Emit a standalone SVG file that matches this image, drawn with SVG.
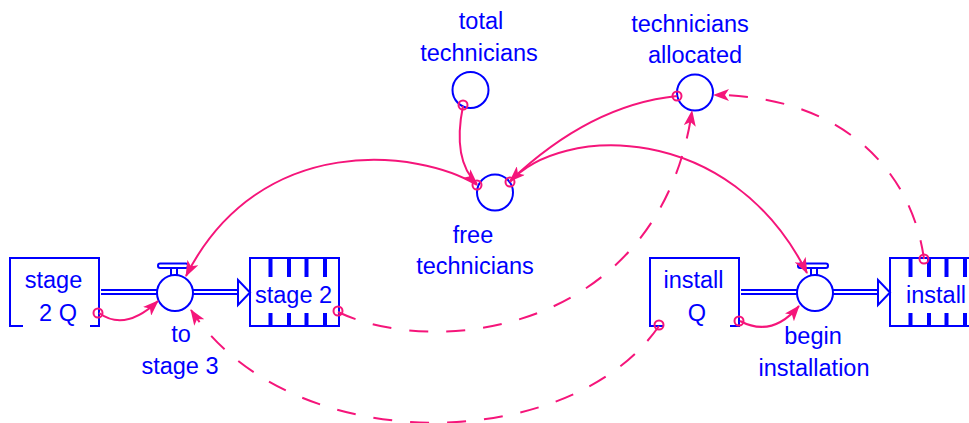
<svg xmlns="http://www.w3.org/2000/svg" width="969" height="423" viewBox="0 0 969 423">
<defs>
<style>
.b{fill:none;stroke:#0000ff;stroke-width:2}
.bw{fill:#fff;stroke:#0000ff;stroke-width:2}
.slat{stroke:#0000ff;stroke-width:4}
.t{font-family:"Liberation Sans",Arial,sans-serif;font-size:23.5px;fill:#0000ff;text-anchor:middle}
.ts{font-family:"Liberation Sans",Arial,sans-serif;font-size:23.5px;fill:#0000ff}
.c{fill:none;stroke:#f5157a;stroke-width:2}
.d{fill:none;stroke:#f5157a;stroke-width:2;stroke-dasharray:19 18}
.o{fill:none;stroke:#f5157a;stroke-width:2}
</style>
<marker id="ah" viewBox="0 0 16 12" refX="15" refY="6" markerWidth="16" markerHeight="12" markerUnits="userSpaceOnUse" orient="auto">
<path d="M0,0 L16,6 L0,12 L4,6 z" fill="#f5157a"/>
</marker>
</defs>

<g id="stage2Q">
<path class="b" d="M23,326 H10 V258 H99 V326 H90"/>
<text class="t" x="53.5" y="288">stage</text>
<text class="t" x="58" y="321">2 Q</text>
</g>

<g id="stage2">
<rect class="b" x="250" y="258" width="89" height="68"/>
<g class="slat">
<path d="M270.5,258V277M289,258V277M306.5,258V277M325,258V277"/>
<path d="M270.5,313V327M289,313V327M306.5,313V327M325,313V327"/>
</g>
<text class="ts" x="255" y="303">stage 2</text>
</g>

<g id="installQ">
<path class="b" d="M663,326 H650 V258 H739 V326 H730"/>
<text class="t" x="693.5" y="288">install</text>
<text class="t" x="697" y="321">Q</text>
</g>

<g id="install">
<path class="b" d="M975,258 H890 V326 H975"/>
<g class="slat">
<path d="M910.5,258V277M929,258V277M946.5,258V277M965,258V277"/>
<path d="M910.5,313V327M929,313V327M946.5,313V327M965,313V327"/>
</g>
<text class="ts" x="906" y="303">install</text>
</g>

<g id="toStage3">
<path class="b" d="M101,290 H157 M101,294 H157 M193,290 H239 M193,294 H239"/>
<path class="bw" d="M238,280 L250,292.5 L238,305 Z"/>
<path class="b" d="M171,268 V276 M177,268 V276"/>
<rect class="b" x="158" y="263.5" width="30" height="4.5" rx="2.2"/>
<circle class="bw" cx="175" cy="293" r="18"/>
<text class="t" x="181" y="342">to</text>
<text class="t" x="180" y="374">stage 3</text>
</g>

<g id="beginInstallation">
<path class="b" d="M741,290 H797 M741,294 H797 M833,290 H879 M833,294 H879"/>
<path class="bw" d="M878,280 L890,292.5 L878,305 Z"/>
<path class="b" d="M811,268 V276 M817,268 V276"/>
<rect class="b" x="798" y="263.5" width="30" height="4.5" rx="2.2"/>
<circle class="bw" cx="815" cy="293" r="18"/>
<text class="t" x="813" y="344">begin</text>
<text class="t" x="814" y="376">installation</text>
</g>

<g id="totalTechnicians">
<circle class="b" cx="470.5" cy="90" r="18"/>
<text class="t" x="481" y="29">total</text>
<text class="t" x="479" y="61">technicians</text>
</g>

<g id="techniciansAllocated">
<circle class="b" cx="695" cy="92.5" r="18"/>
<text class="t" x="690" y="32">technicians</text>
<text class="t" x="695" y="63">allocated</text>
</g>

<g id="freeTechnicians">
<circle class="b" cx="495" cy="192.5" r="18"/>
<text class="t" x="473" y="243">free</text>
<text class="t" x="475" y="274">technicians</text>
</g>

<g id="connectors">
<path class="c" marker-end="url(#ah)" d="M463,106 Q452,160 477,184"/>
<path class="c" marker-end="url(#ah)" d="M677,96 Q590,105 510,181"/>
<path class="c" marker-end="url(#ah)" d="M477,185 C420,150 260,130 186,276"/>
<path class="c" marker-end="url(#ah)" d="M510,182 C560,125 730,120 807,273"/>
<path class="c" marker-end="url(#ah)" d="M99,313 Q125,332 158,301"/>
<path class="c" marker-end="url(#ah)" d="M740,321 Q772,338 799,306"/>
<path class="d" marker-end="url(#ah)" d="M338,312 C440,360 660,330 692,111"/>
<path class="d" marker-end="url(#ah)" d="M659,326 C570,455 290,460 191,310"/>
<path class="d" marker-end="url(#ah)" d="M924,259 C910,160 830,95 714,95"/>
<circle class="o" cx="463" cy="105" r="4.5"/>
<circle class="o" cx="677" cy="96" r="4.5"/>
<circle class="o" cx="477" cy="185" r="4.5"/>
<circle class="o" cx="510" cy="182" r="4.5"/>
<circle class="o" cx="98" cy="313" r="4.5"/>
<circle class="o" cx="739" cy="321" r="4.5"/>
<circle class="o" cx="338" cy="311" r="4.5"/>
<circle class="o" cx="659" cy="325" r="4.5"/>
<circle class="o" cx="924" cy="259" r="4.5"/>
</g>
</svg>
